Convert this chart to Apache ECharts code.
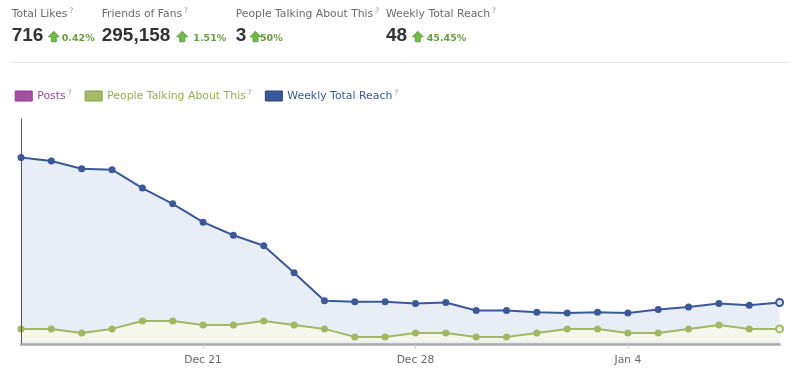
<!DOCTYPE html>
<html>
<head>
<meta charset="utf-8">
<script src="https://cdn.jsdelivr.net/npm/echarts@6/dist/echarts.min.js"></script>
<style>
html,body{margin:0;padding:0;background:#fff;}
#chart{width:802px;height:374px;}
</style>
</head>
<body>
<div id="chart"></div>
<script>
// ---- data ----
const categories = ['Dec 15','Dec 16','Dec 17','Dec 18','Dec 19','Dec 20','Dec 21','Dec 22','Dec 23','Dec 24','Dec 25','Dec 26','Dec 27','Dec 28','Dec 29','Dec 30','Dec 31','Jan 1','Jan 2','Jan 3','Jan 4','Jan 5','Jan 6','Jan 7','Jan 8','Jan 9'];
const weeklyTotalReach = [214, 210, 201, 200, 179, 161, 140, 125, 113, 82, 50, 49, 49, 47, 48, 39, 39, 37, 36, 37, 36, 40, 43, 47, 45, 48];
const peopleTalking = [3, 3, 2, 3, 5, 5, 4, 4, 5, 4, 3, 1, 1, 2, 2, 1, 1, 2, 3, 3, 2, 2, 3, 4, 3, 3];
const posts = [];
const seriesNames = ['Posts', 'People Talking About This', 'Weekly Total Reach'];
const tickLabels = ['Dec 21', 'Dec 28', 'Jan 4'];

const statLabels = ['Total Likes', 'Friends of Fans', 'People Talking About This', 'Weekly Total Reach'];
const statValues = ['716', '295,158', '3', '48'];
const statChanges = ['0.42%', '1.51%', '50%', '45.45%'];

// ---- layout / style ----
const statX = [11.7, 101.7, 235.7, 386];
const arrowX = [48.3, 176.7, 250, 412.3];
const changeX = [61.7, 193.3, 260, 426.7];
const FONT = '"DejaVu Sans", "Lucida Grande", sans-serif';
const BLUE = '#3b5998', GREEN = '#a3b763', PURPLE = '#a44ea4';

const graphics = [];
statLabels.forEach((lab, i) => {
  graphics.push({
    type: 'text', left: statX[i], top: 7,
    style: {
      text: '{l|' + lab + '}{q|?}',
      rich: {
        l: { fontSize: 10.8, fontFamily: FONT, fill: '#6b6b6b', lineHeight: 14 },
        q: { fontSize: 7.5, fontFamily: FONT, fill: '#9a9a9a', verticalAlign: 'top', lineHeight: 14, padding: [0, 0, 4, 2] }
      }
    }
  });
  graphics.push({
    type: 'text', left: statX[i], top: 26,
    style: { text: statValues[i], font: 'bold 19px "Liberation Sans", Arial, sans-serif', fill: '#333' }
  });
  graphics.push({
    type: 'polygon', x: arrowX[i], y: 31.3,
    shape: { points: [[0, 5.5], [5.5, 0], [11, 5.5], [8, 5.5], [8, 10.5], [3, 10.5], [3, 5.5]] },
    style: { fill: '#74b94a', stroke: '#4f9a2f', lineWidth: 0.8 }
  });
  graphics.push({
    type: 'text', left: changeX[i], top: 33.5,
    style: { text: statChanges[i], font: 'bold 9.5px ' + FONT, fill: '#6a9d3f' }
  });
});
graphics.push({
  type: 'line', shape: { x1: 11, y1: 62.5, x2: 790, y2: 62.5 },
  style: { stroke: '#e3e3e3', lineWidth: 1 }
});

const reachData = weeklyTotalReach.map((v, i) => i === weeklyTotalReach.length - 1
  ? { value: v, itemStyle: { color: '#dfe5f1', borderColor: BLUE, borderWidth: 2 } } : v);
const talkData = peopleTalking.map((v, i) => i === peopleTalking.length - 1
  ? { value: v, itemStyle: { color: '#eef2df', borderColor: GREEN, borderWidth: 2 } } : v);

const chart = echarts.init(document.getElementById('chart'), null, { renderer: 'canvas' });
chart.setOption({
  animation: false,
  backgroundColor: '#fff',
  textStyle: { fontFamily: FONT },
  graphic: graphics,
  legend: {
    left: 14.7, top: 89, padding: 0,
    icon: 'rect', itemWidth: 17, itemHeight: 10, itemGap: 13,
    selectedMode: false,
    formatter: name => '{t|' + name + '}{q|?}',
    textStyle: {
      fontFamily: FONT, fontSize: 10.9,
      rich: {
        t: { fontFamily: FONT, fontSize: 10.9, lineHeight: 14 },
        q: { fontFamily: FONT, fontSize: 7.5, color: '#9a9a9a', verticalAlign: 'top', lineHeight: 14, padding: [0, 0, 4, 2] }
      }
    },
    data: [
      { name: seriesNames[0], itemStyle: { color: PURPLE, borderColor: '#8a3c8a', borderWidth: 1 }, textStyle: { color: '#9b4a9b' } },
      { name: seriesNames[1], itemStyle: { color: '#a8bc66', borderColor: '#8b9f4e', borderWidth: 1 }, textStyle: { color: '#98ad58' } },
      { name: seriesNames[2], itemStyle: { color: BLUE, borderColor: '#2c4478', borderWidth: 1 }, textStyle: { color: '#3b5998' } }
    ]
  },
  grid: { left: 21, right: 22.4, top: 119, bottom: 29.5 },
  xAxis: {
    type: 'category', data: categories, boundaryGap: false, z: 5,
    axisLine: { lineStyle: { color: '#a9a9a9', width: 2.5 } },
    axisTick: { show: true, length: 4, lineStyle: { color: '#cfcfcf' }, interval: (i, v) => tickLabels.includes(v) },
    axisLabel: { color: '#666', fontSize: 10.7, fontFamily: FONT, margin: 10, interval: (i, v) => tickLabels.includes(v) },
    splitLine: { show: false }
  },
  yAxis: [
    { type: 'value', min: 0, max: 258, z: 5, axisLine: { show: true, lineStyle: { color: '#555', width: 1 } },
      axisTick: { show: false }, axisLabel: { show: false }, splitLine: { show: false } },
    { type: 'value', min: -0.9, max: 55.5, show: false, splitLine: { show: false } }
  ],
  series: [
    { name: seriesNames[2], type: 'line', yAxisIndex: 0, data: reachData, z: 2,
      symbol: 'circle', symbolSize: 7, showSymbol: true,
      lineStyle: { color: BLUE, width: 2 }, itemStyle: { color: BLUE },
      areaStyle: { color: '#e9edf6', opacity: 1 } },
    { name: seriesNames[1], type: 'line', yAxisIndex: 1, data: talkData, z: 3,
      symbol: 'circle', symbolSize: 7,
      lineStyle: { color: GREEN, width: 2 }, itemStyle: { color: GREEN },
      areaStyle: { color: '#f5f7ec', opacity: 1 } },
    { name: seriesNames[0], type: 'line', data: posts, itemStyle: { color: PURPLE }, lineStyle: { color: PURPLE } }
  ]
});
</script>
</body>
</html>
